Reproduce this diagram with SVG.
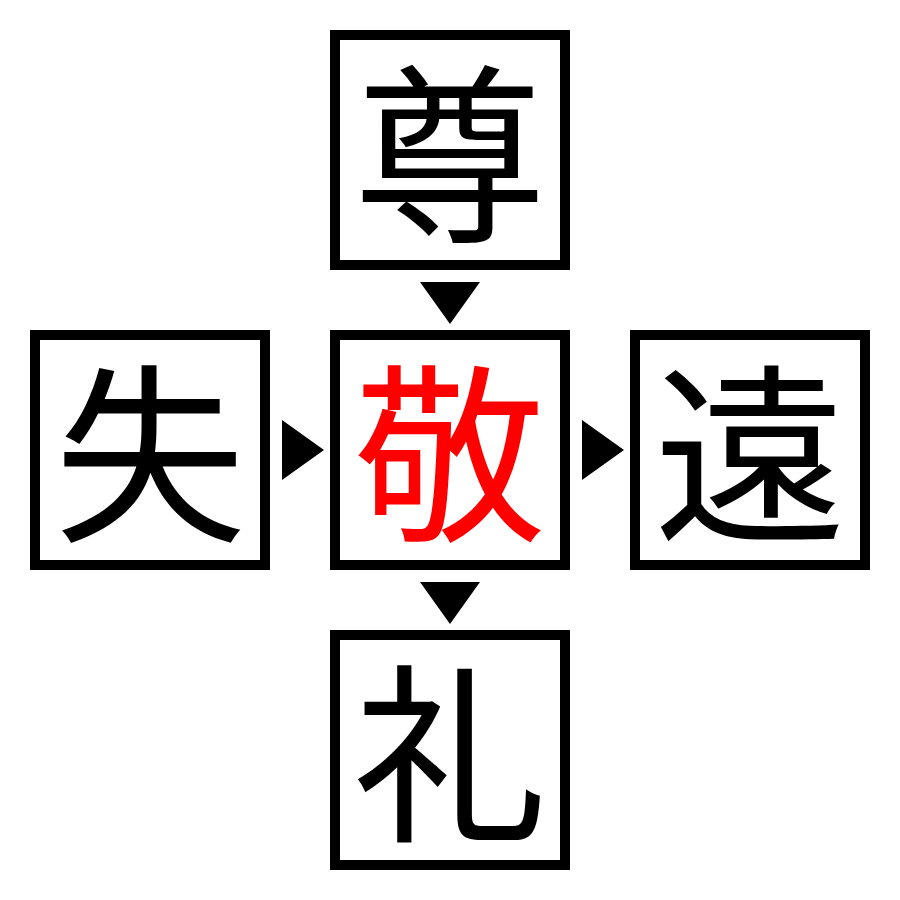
<svg xmlns="http://www.w3.org/2000/svg" width="900" height="900" viewBox="0 0 900 900">
<style>
.box{fill:#fff;stroke:#000;stroke-width:10}
.ch{font-family:"Noto Sans CJK JP","Noto Sans CJK SC",sans-serif;font-size:192px;text-anchor:middle;dominant-baseline:central;fill:#000}
.hl{fill:#ff0000}
.arr{fill:#000}
</style>
<rect width="900" height="900" fill="#fff"/>
<g id="top"><rect class="box" x="335" y="35" width="230" height="230"/><text class="ch" x="450" y="143">尊</text></g>
<g id="left"><rect class="box" x="35" y="335" width="230" height="230"/><text class="ch" x="150" y="443">失</text></g>
<g id="center"><rect class="box" x="335" y="335" width="230" height="230"/><text class="ch hl" x="450" y="443">敬</text></g>
<g id="right"><rect class="box" x="635" y="335" width="230" height="230"/><text class="ch" x="750" y="443">遠</text></g>
<g id="bottom"><rect class="box" x="335" y="635" width="230" height="230"/><text class="ch" x="450" y="743">礼</text></g>
<g id="connectors">
<polygon class="arr" points="420,282 480,282 450,324"/>
<polygon class="arr" points="282,420 282,480 324,450"/>
<polygon class="arr" points="582,420 582,480 624,450"/>
<polygon class="arr" points="420,582 480,582 450,624"/>
</g>
</svg>
